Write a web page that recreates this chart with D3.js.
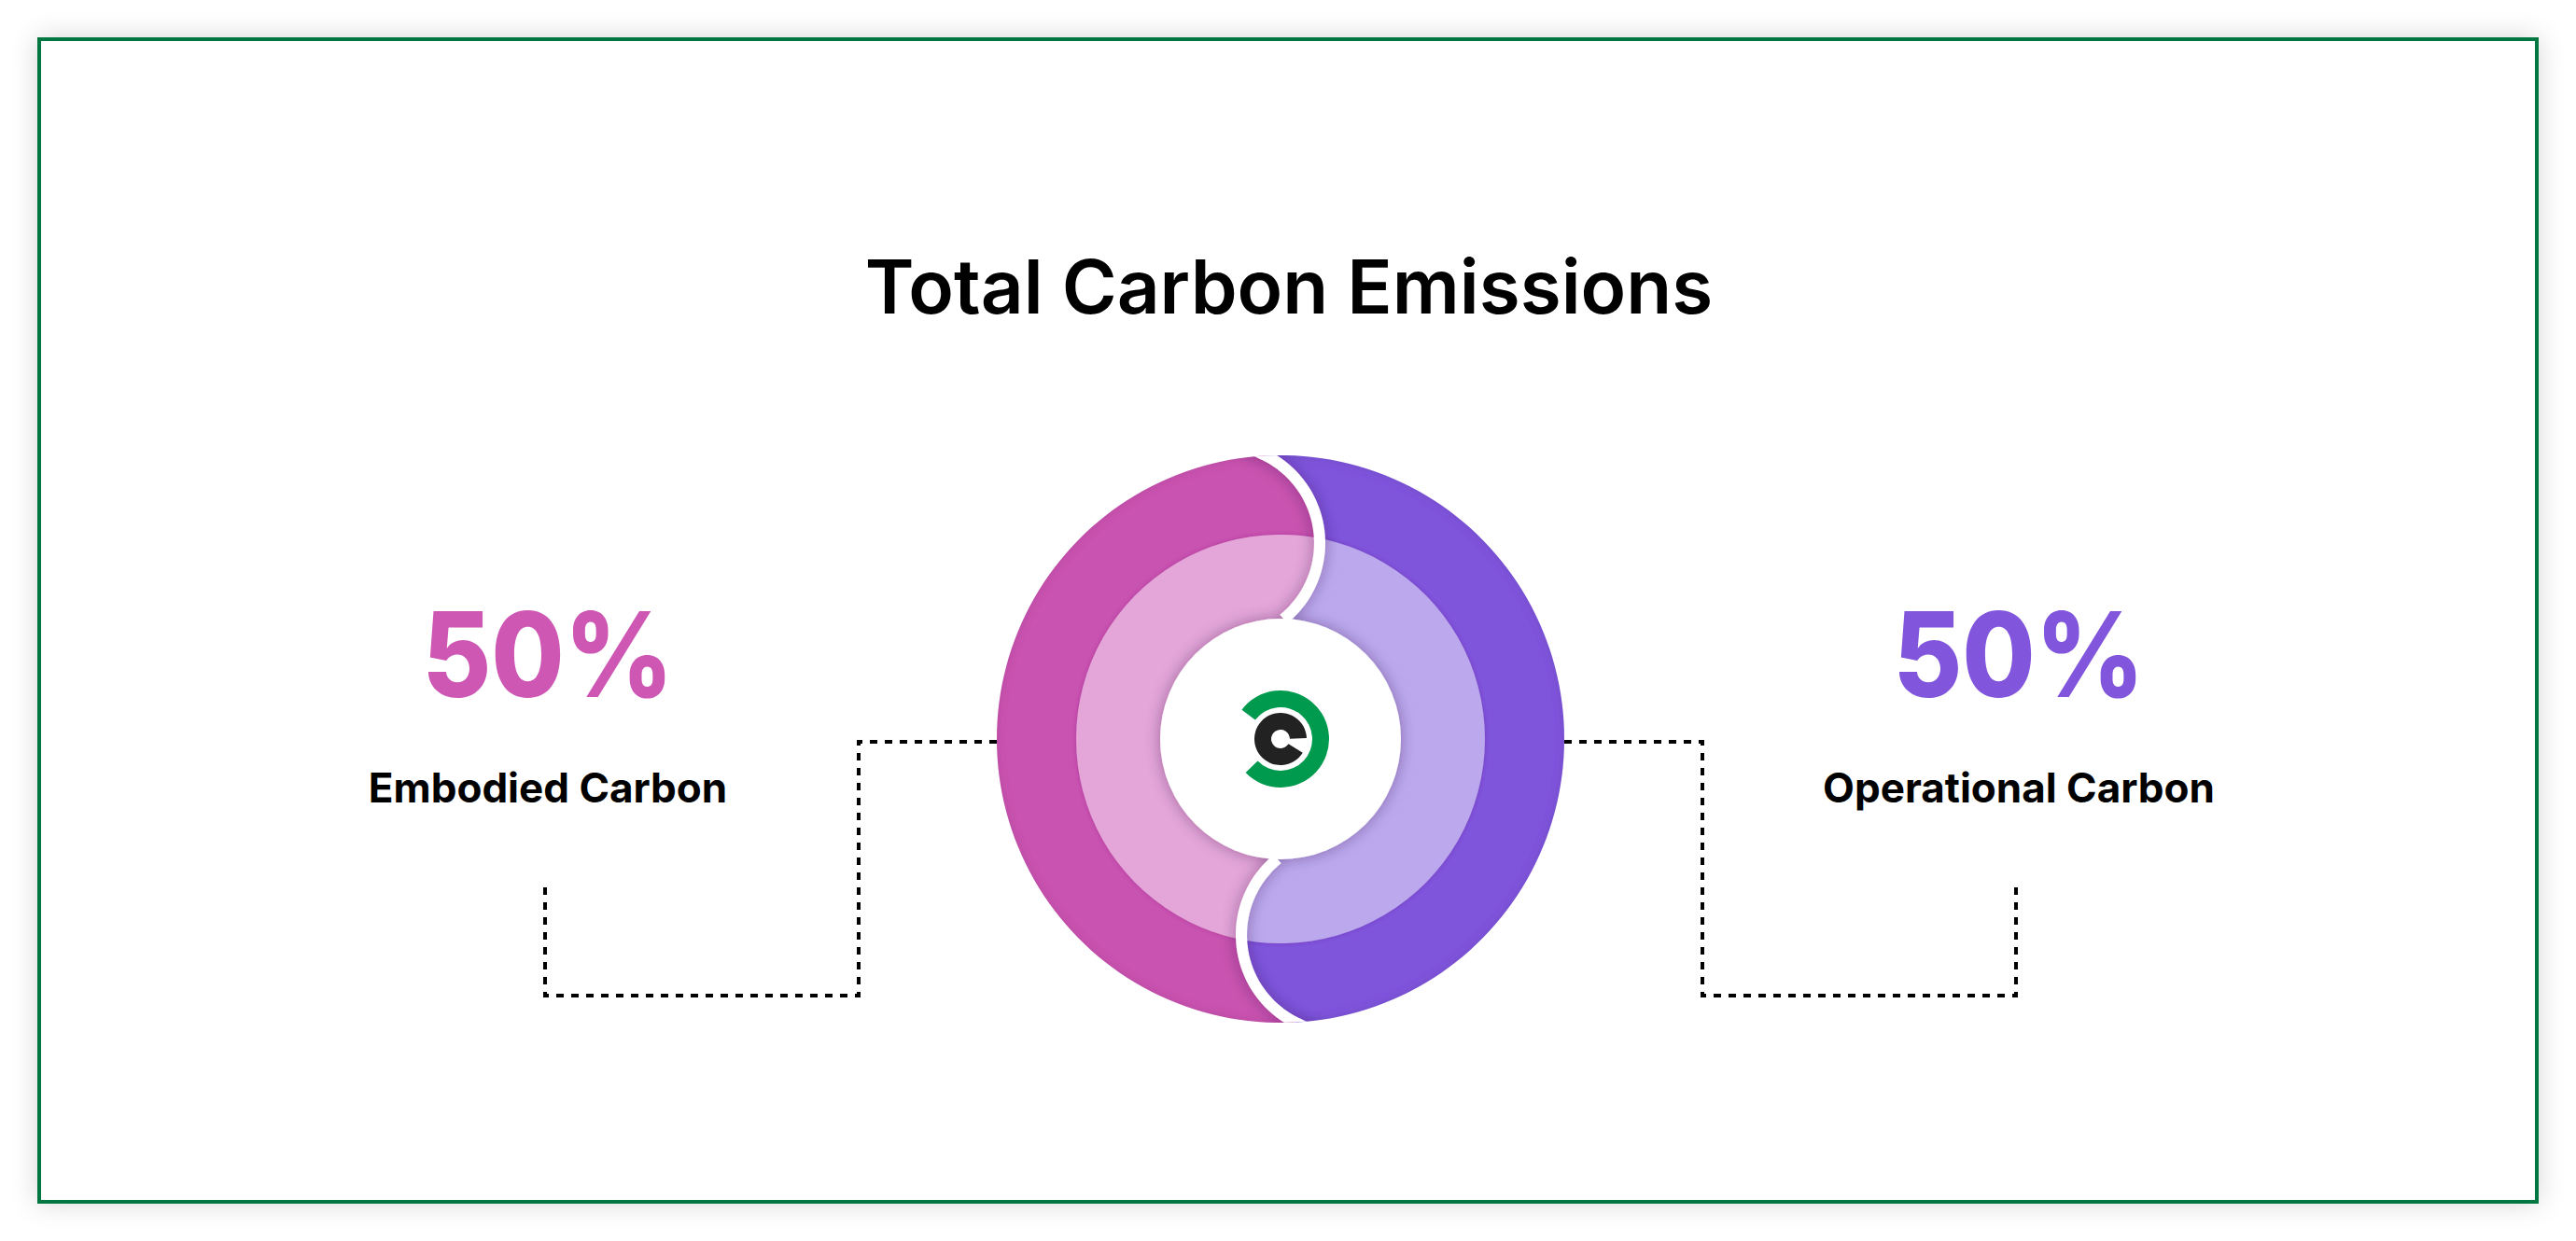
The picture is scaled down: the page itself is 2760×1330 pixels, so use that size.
<!DOCTYPE html>
<html>
<head>
<meta charset="utf-8">
<script src="https://cdn.jsdelivr.net/npm/d3@7/dist/d3.min.js"></script>
<style>
  html, body { margin: 0; padding: 0; background: #ffffff; }
  svg { display: block; }
  text { font-family: Inter, "Noto Sans", "DejaVu Sans", sans-serif; }
</style>
</head>
<body>
<script>
// ---------- data ----------
const titleText = "Total Carbon Emissions";
const categories = ["Embodied Carbon", "Operational Carbon"];
const values = [50, 50];

// ---------- styles ----------
const outerColors = ["#c952b0", "#7f55dc"];
const innerColors = ["#e4a5d8", "#bca8ed"];
const textColors  = ["#cf57b4", "#8156dc"];

const W = 2760, H = 1330;
const svg = d3.select("body").append("svg").attr("width", W).attr("height", H);
const defs = svg.append("defs");

// frame shadow
const fs = defs.append("filter").attr("id", "frameShadow")
  .attr("x", "-5%").attr("y", "-8%").attr("width", "110%").attr("height", "116%");
fs.append("feDropShadow").attr("dx", 0).attr("dy", 0).attr("stdDeviation", 14)
  .attr("flood-color", "#000").attr("flood-opacity", 0.16);

// inner shadow for outer ring
const ins = defs.append("filter").attr("id", "innerShadow")
  .attr("x", "-10%").attr("y", "-10%").attr("width", "120%").attr("height", "120%");
ins.append("feFlood").attr("flood-color", "#000").attr("flood-opacity", 0.22).attr("result", "fl");
ins.append("feComposite").attr("in", "fl").attr("in2", "SourceAlpha").attr("operator", "out").attr("result", "inv");
ins.append("feGaussianBlur").attr("in", "inv").attr("stdDeviation", 5).attr("result", "blur");
ins.append("feComposite").attr("in", "blur").attr("in2", "SourceAlpha").attr("operator", "in").attr("result", "sh");
const im = ins.append("feMerge");
im.append("feMergeNode").attr("in", "SourceGraphic");
im.append("feMergeNode").attr("in", "sh");

// soft shadow of light ring onto outer ring
const ls = defs.append("filter").attr("id", "lightShadow")
  .attr("x", "-10%").attr("y", "-10%").attr("width", "120%").attr("height", "120%");
ls.append("feDropShadow").attr("dx", 0).attr("dy", 0).attr("stdDeviation", 2)
  .attr("flood-color", "#6a1060").attr("flood-opacity", 0.25);

// shadow cast by white parts
const ws = defs.append("filter").attr("id", "whiteShadow")
  .attr("x", "-30%").attr("y", "-30%").attr("width", "160%").attr("height", "160%");
ws.append("feDropShadow").attr("dx", 0).attr("dy", 0).attr("stdDeviation", 8)
  .attr("flood-color", "#2a1040").attr("flood-opacity", 0.38);

// ---------- frame ----------
svg.append("rect")
  .attr("x", 42).attr("y", 42).attr("width", 2676).attr("height", 1246)
  .attr("fill", "#ffffff").attr("stroke", "#00773f").attr("stroke-width", 4)
  .attr("filter", "url(#frameShadow)");

// ---------- title ----------
svg.append("text")
  .attr("x", 1381).attr("y", 336)
  .attr("text-anchor", "middle")
  .attr("font-size", 80).attr("font-weight", 600).attr("fill", "#000")
  .text(titleText);

// ---------- donut geometry ----------
const cx = 1372, cy = 792;
const R = 304, rMid = 219, rHole = 129;

const pie = d3.pie().sort(null).startAngle(Math.PI).endAngle(3 * Math.PI);
const arcs = pie(values);
const total = d3.sum(values);
const splitDeg = (arcs[0].endAngle * 180 / Math.PI) % 360;

// S-shaped divider (local frame: split at top, vertical)
const sc = { x: -63, y: -210 }, sr = 105;
const thA = Math.atan2(-303 - sc.y, -18 - sc.x);
const thC = Math.atan2(-129 - sc.y, 3 - sc.x);
const topPts = d3.range(0, 41).map(i => {
  const t = thA + (thC - thA) * i / 40;
  return [sc.x + sr * Math.cos(t), sc.y + sr * Math.sin(t)];
});
const tA = [-Math.sin(thA), Math.cos(thA)];
const ext = [topPts[0][0] - 40 * tA[0], topPts[0][1] - 40 * tA[1]];
const topLine = [ext].concat(topPts);
const botLine = topLine.slice().reverse().map(p => [-p[0], -p[1]]);
const fullLine = topLine.concat(botLine);
const endB = fullLine[fullLine.length - 1], startT = fullLine[0];

const leftRegion = fullLine.concat([[endB[0], 420], [-420, 420], [-420, -420], [startT[0], -420]]);
const rightRegion = fullLine.concat([[endB[0], 420], [420, 420], [420, -420], [startT[0], -420]]);
const poly = d3.line().curve(d3.curveLinear);

defs.append("clipPath").attr("id", "clipLeft")
  .append("path").attr("d", poly(leftRegion) + "Z").attr("transform", `rotate(${splitDeg})`);
defs.append("clipPath").attr("id", "clipRight")
  .append("path").attr("d", poly(rightRegion) + "Z").attr("transform", `rotate(${splitDeg})`);
defs.append("clipPath").attr("id", "clipDonut")
  .append("circle").attr("r", R);

const sideOf = d => Math.sin((d.startAngle + d.endAngle) / 2) < 0 ? -1 : 1;
const clipOf = d => sideOf(d) < 0 ? "url(#clipLeft)" : "url(#clipRight)";
const extA = 0.5;

const g = svg.append("g").attr("transform", `translate(${cx},${cy})`);

// outer rings
const outerArc = d3.arc().innerRadius(rMid - 6).outerRadius(R)
  .startAngle(d => d.startAngle - extA).endAngle(d => d.endAngle + extA);
g.append("g").selectAll("path.outer").data(arcs).join("path")
  .attr("class", "outer")
  .attr("d", outerArc)
  .attr("fill", (d, i) => outerColors[i])
  .attr("filter", "url(#innerShadow)")
  .attr("clip-path", clipOf);

// light rings
const innerArc = d3.arc().innerRadius(rHole - 6).outerRadius(rMid)
  .startAngle(d => d.startAngle - extA).endAngle(d => d.endAngle + extA);
g.append("g").selectAll("path.inner").data(arcs).join("path")
  .attr("class", "inner")
  .attr("d", innerArc)
  .attr("fill", (d, i) => innerColors[i])
  .attr("filter", "url(#lightShadow)")
  .attr("clip-path", clipOf);

// white divider + center hole with shadow
const wg = g.append("g").attr("clip-path", "url(#clipDonut)")
  .append("g").attr("filter", "url(#whiteShadow)");
wg.append("path")
  .attr("d", poly(topLine) + poly(botLine))
  .attr("transform", `rotate(${splitDeg})`)
  .attr("fill", "none").attr("stroke", "#ffffff").attr("stroke-width", 12);
wg.append("circle").attr("r", rHole).attr("fill", "#ffffff");

// logo
const deg = Math.PI / 180;
g.append("path")
  .attr("d", d3.arc().innerRadius(34).outerRadius(52).startAngle(-53 * deg).endAngle(226 * deg)())
  .attr("fill", "#009a4e");
g.append("path")
  .attr("d", d3.arc().innerRadius(10).outerRadius(28).startAngle(122 * deg).endAngle(448 * deg)())
  .attr("fill", "#222222");

// ---------- connectors & labels ----------
const connector = d3.line();
arcs.forEach((d, i) => {
  const s = sideOf(d);
  const pts = [[s * R, 3], [s * 452, 3], [s * 452, 275], [s * 788, 275], [s * 788, 154]];
  g.append("path")
    .attr("d", connector(pts))
    .attr("fill", "none").attr("stroke", "#000").attr("stroke-width", 4)
    .attr("stroke-dasharray", "8,8");

  const lx = s * 788 + 3;
  g.append("text")
    .attr("transform", `translate(${lx},${747 - cy}) scale(0.9,1)`)
    .attr("text-anchor", "middle")
    .attr("font-size", 126).attr("font-weight", 800)
    .attr("fill", textColors[i])
    .text(Math.round(d.data / total * 100) + "%");
  g.append("text")
    .attr("x", lx).attr("y", 860 - cy)
    .attr("text-anchor", "middle")
    .attr("font-size", 44).attr("font-weight", 700)
    .attr("fill", "#000")
    .text(categories[i]);
});
</script>
</body>
</html>
